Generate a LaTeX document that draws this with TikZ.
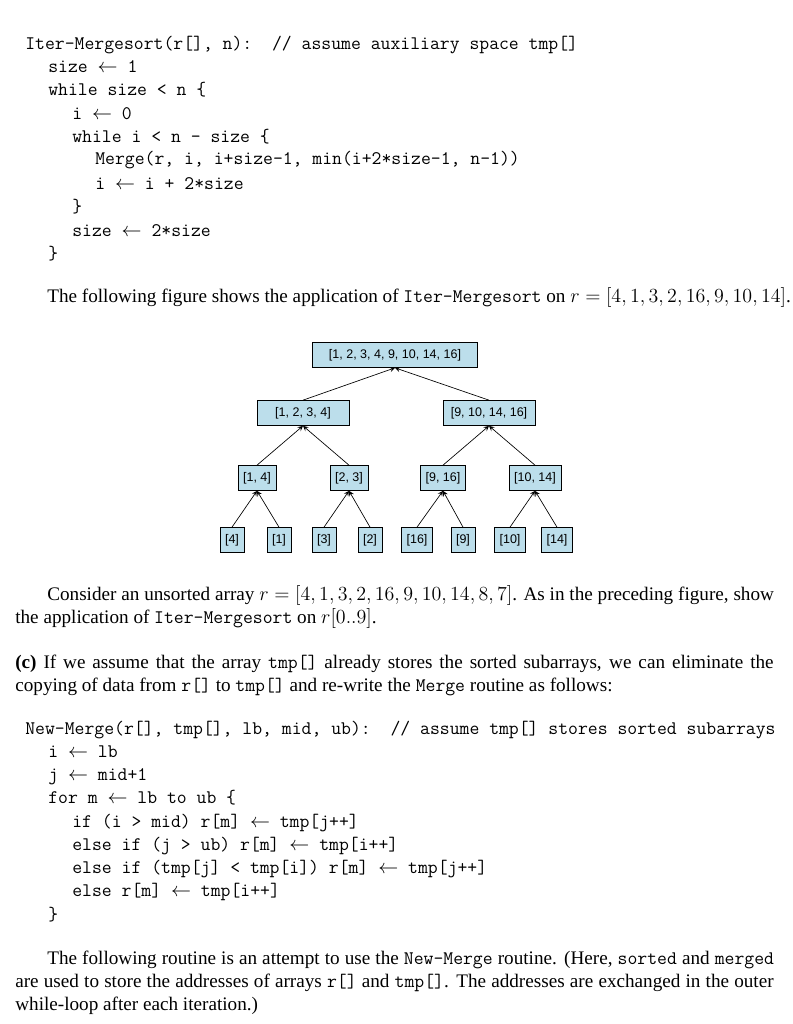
\documentclass[tikz,border=0pt]{standalone}
\usepackage{amsmath}
\usepackage{fontspec}
\setmainfont{Liberation Serif}
\newfontfamily\treefont{Liberation Sans}
\usetikzlibrary{arrows,positioning}
\tikzstyle{lst}=[anchor=base west,inner sep=0pt,font=\fontsize{11.5}{13}\ttfamily]
\tikzstyle{par}=[anchor=base west,inner sep=0pt,font=\fontsize{11.5}{13}\selectfont]
\tikzstyle{arr}=[fill=cyan!25!white!85!gray,draw,minimum height=15pt,inner sep=3pt,font=\fontsize{7.5}{9}\treefont]
\newcommand\jl[2]{\parbox[b]{#1}{\parfillskip=0pt #2}}
\newcommand\la{$\leftarrow$}
\begin{document}
\begin{tikzpicture}[x=0.6pt,y=-0.6pt,>=stealth]
\useasboundingbox (0,0) rectangle (792,1024);
% pseudo code
\node[lst] (c1) at (25,50) {Iter-Mergesort(r[], n):\ \ // assume auxiliary space tmp[]};
\node[lst] (c2) at (48,73) {size \la{} 1};
\node[lst] (c3) at (48,96) {while size < n \{};
\node[lst] (c4) at (72,119) {i \la{} 0};
\node[lst] (c5) at (72,142) {while i < n - size \{};
\node[lst] (c6) at (95,165) {Merge(r, i, i+size-1, min(i+2*size-1, n-1))};
\node[lst] (c7) at (95,189) {i \la{} i + 2*size};
\node[lst] (c8) at (72,212) {\}};
\node[lst] (c9) at (72,236) {size \la{} 2*size};
\node[lst] (c10) at (48,259) {\}};
\node[par] (p1) at (47,302) {The following figure shows the application of \texttt{Iter-Mergesort} on $r=[4,1,3,2,16,9,10,14]$.};
% tree
\node[arr,minimum width=99pt] (r) at (395,355) {[1, 2, 3, 4, 9, 10, 14, 16]};
\node[arr,minimum width=55pt] (a) at (303,413) {[1, 2, 3, 4]};
\node[arr,minimum width=55pt] (b) at (489,413) {[9, 10, 14, 16]};
\node[arr] (a1) at (257,478) {[1, 4]};
\node[arr] (a2) at (349,478) {[2, 3]};
\node[arr] (b1) at (443,478) {[9, 16]};
\node[arr] (b2) at (535,478) {[10, 14]};
\foreach \n/\x/\p in {4/232/a1,1/279/a1,3/324/a2,2/370/a2,16/417/b1,9/463/b1,10/510/b2,14/557/b2}
  \node[arr] (l\n) at (\x,540) {[\n]};
\foreach \c/\p in {a/r,b/r,a1/a,a2/a,b1/b,b2/b,l4/a1,l1/a1,l3/a2,l2/a2,l16/b1,l9/b1,l10/b2,l14/b2}
  \draw[->] (\c.north) -- (\p.south);
% text
\node[par] (p2) at (47,600) {\jl{436pt}{Consider an unsorted array $r=[4,1,3,2,16,9,10,14,8,7]$. As in the preceding figure, show}};
\node[par] (p3) at (15,623) {the application of \texttt{Iter-Mergesort} on $r[0..9]$.};
\node[par] (p4) at (15,668) {\jl{455pt}{\textbf{(c)} If we assume that the array \texttt{tmp[]} already stores the sorted subarrays, we can eliminate the}};
\node[par] (p5) at (15,691) {copying of data from \texttt{r[]} to \texttt{tmp[]} and re-write the \texttt{Merge} routine as follows:};
\node[lst] (d1) at (25,734) {New-Merge(r[], tmp[], lb, mid, ub):\ \ // assume tmp[] stores sorted subarrays};
\node[lst] (d2) at (48,757) {i \la{} lb};
\node[lst] (d3) at (48,780) {j \la{} mid+1};
\node[lst] (d4) at (48,803) {for m \la{} lb to ub \{};
\node[lst] (d5) at (72,827) {if (i > mid) r[m] \la{} tmp[j++]};
\node[lst] (d6) at (72,850) {else if (j > ub) r[m] \la{} tmp[i++]};
\node[lst] (d7) at (72,873) {else if (tmp[j] < tmp[i]) r[m] \la{} tmp[j++]};
\node[lst] (d8) at (72,896) {else r[m] \la{} tmp[i++]};
\node[lst] (d9) at (48,920) {\}};
\node[par] (p6) at (47,964) {\jl{436pt}{The following routine is an attempt to use the \texttt{New-Merge} routine. (Here, \texttt{sorted} and \texttt{merged}}};
\node[par] (p7) at (15,987) {\jl{455pt}{are used to store the addresses of arrays \texttt{r[]} and \texttt{tmp[]}. The addresses are exchanged in the outer}};
\node[par] (p8) at (15,1010) {while-loop after each iteration.)};
\end{tikzpicture}
\end{document}
